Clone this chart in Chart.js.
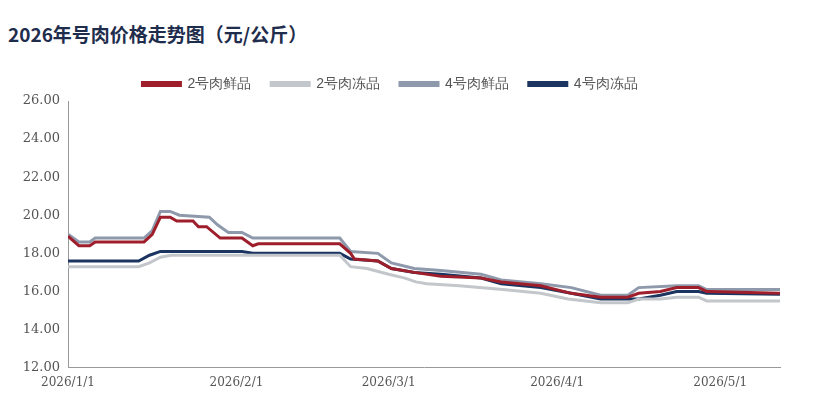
<!DOCTYPE html>
<html><head><meta charset="utf-8">
<script src="https://cdn.jsdelivr.net/npm/chart.js@4"></script>
<style>
body{margin:0;background:#fff;font-family:"Noto Sans CJK SC","Noto Sans",sans-serif;}
#title{position:absolute;left:8px;top:20px;font-size:19px;font-weight:bold;color:#1f2d4d;}
#wrap{position:absolute;left:0;top:57px;width:800px;height:336px;}
</style></head><body>
<div id="title">2026年号肉价格走势图（元/公斤）</div>
<div id="wrap"><canvas id="c"></canvas></div>
<script>
// day offsets from 2026/1/1
const monthDays = [0, 31, 59, 90, 120];
const monthLabels = ['2026/1/1', '2026/2/1', '2026/3/1', '2026/4/1', '2026/5/1'];
const seriesNames = ['2号肉鲜品', '2号肉冻品', '4号肉鲜品', '4号肉冻品'];

const freshNo2Days = [0, 2, 4, 5, 14, 15.5, 17, 18.8, 20, 23, 24, 25.5, 28, 32, 34, 35, 50, 52, 52.7, 57, 59.5, 63.7, 68.6, 76, 79.7, 87, 92.6, 98, 103, 105, 109, 112, 116, 117.5, 118, 131];
const freshNo2Vals = [18.9, 18.4, 18.4, 18.6, 18.6, 19.0, 19.9, 19.9, 19.7, 19.7, 19.4, 19.4, 18.8, 18.8, 18.4, 18.5, 18.5, 18.0, 17.7, 17.6, 17.2, 17.0, 16.8, 16.7, 16.5, 16.3, 15.9, 15.7, 15.7, 15.9, 16.0, 16.2, 16.2, 16.0, 16.0, 15.9];

const frozenNo2Days = [0, 13, 15, 17, 19, 50, 52, 55, 59, 62, 64, 66, 72, 80, 87, 92, 98, 103, 105, 109, 112, 116, 117.5, 131];
const frozenNo2Vals = [17.3, 17.3, 17.5, 17.8, 17.9, 17.9, 17.3, 17.2, 16.9, 16.7, 16.5, 16.4, 16.3, 16.1, 15.9, 15.6, 15.4, 15.4, 15.6, 15.6, 15.7, 15.7, 15.5, 15.5];

const freshNo4Days = [0, 2, 4, 5, 14, 15.5, 17, 18.8, 20.5, 26, 27.5, 29.5, 32, 34, 50, 52, 57, 59.5, 63.7, 68.6, 76, 79.7, 87, 92.6, 98, 103, 105, 112, 116, 117.5, 131];
const freshNo4Vals = [19.0, 18.6, 18.6, 18.8, 18.8, 19.2, 20.2, 20.2, 20.0, 19.9, 19.5, 19.1, 19.1, 18.8, 18.8, 18.1, 18.0, 17.5, 17.2, 17.1, 16.9, 16.6, 16.4, 16.2, 15.8, 15.8, 16.2, 16.3, 16.3, 16.1, 16.1];

const frozenNo4Days = [0, 13, 15, 17, 32, 34, 50, 52, 57, 59.5, 63.7, 68.6, 76, 79.7, 87, 92.6, 98, 103, 105, 109, 112, 116, 117.5, 131];
const frozenNo4Vals = [17.6, 17.6, 17.9, 18.1, 18.1, 18.0, 18.0, 17.7, 17.6, 17.2, 17.0, 16.9, 16.7, 16.4, 16.2, 15.9, 15.6, 15.6, 15.6, 15.8, 16.0, 16.0, 15.9, 15.85];

const pts = (d, v) => d.map((x, i) => ({ x: x, y: v[i] }));
const mk = (label, data, color) => ({ label, data, borderColor: color, backgroundColor: color, borderWidth: 3, pointRadius: 0, tension: 0, fill: false });

new Chart(document.getElementById('c'), {
    type: 'line',
    data: {
        datasets: [
            mk(seriesNames[0], pts(freshNo2Days, freshNo2Vals), '#9e1f2b'),
            mk(seriesNames[1], pts(frozenNo2Days, frozenNo2Vals), '#c3c6ca'),
            mk(seriesNames[2], pts(freshNo4Days, freshNo4Vals), '#8e9aac'),
            mk(seriesNames[3], pts(frozenNo4Days, frozenNo4Vals), '#1b3460')
        ]
    },
    options: {
        responsive: true,
        maintainAspectRatio: false,
        animation: false,
        layout: { padding: { right: 20, left: 0 } },
        scales: {
            x: {
                type: 'linear', min: 0, max: 131,
                afterBuildTicks: (axis) => { axis.ticks = monthDays.map(v => ({ value: v })); },
                grid: { display: false, drawTicks: true, tickLength: 5, color: '#999' },
                border: { color: '#999' },
                ticks: { color: '#555', font: { family: 'DejaVu Serif', size: 12 }, maxRotation: 0, callback: (v) => monthLabels[monthDays.indexOf(v)] }
            },
            y: {
                min: 12, max: 26,
                afterFit: (s) => { s.width = 68; },
                grid: { display: false, tickLength: 5 },
                border: { color: '#999' },
                ticks: { stepSize: 2, color: '#555', font: { family: 'DejaVu Serif', size: 13 }, callback: (v) => v.toFixed(2) }
            }
        },
        plugins: {
            legend: {
                labels: { boxWidth: 38, boxHeight: 3, color: '#555', font: { size: 14 }, padding: 20 }
            },
            tooltip: { enabled: false }
        }
    }
});
</script>
</body></html>
